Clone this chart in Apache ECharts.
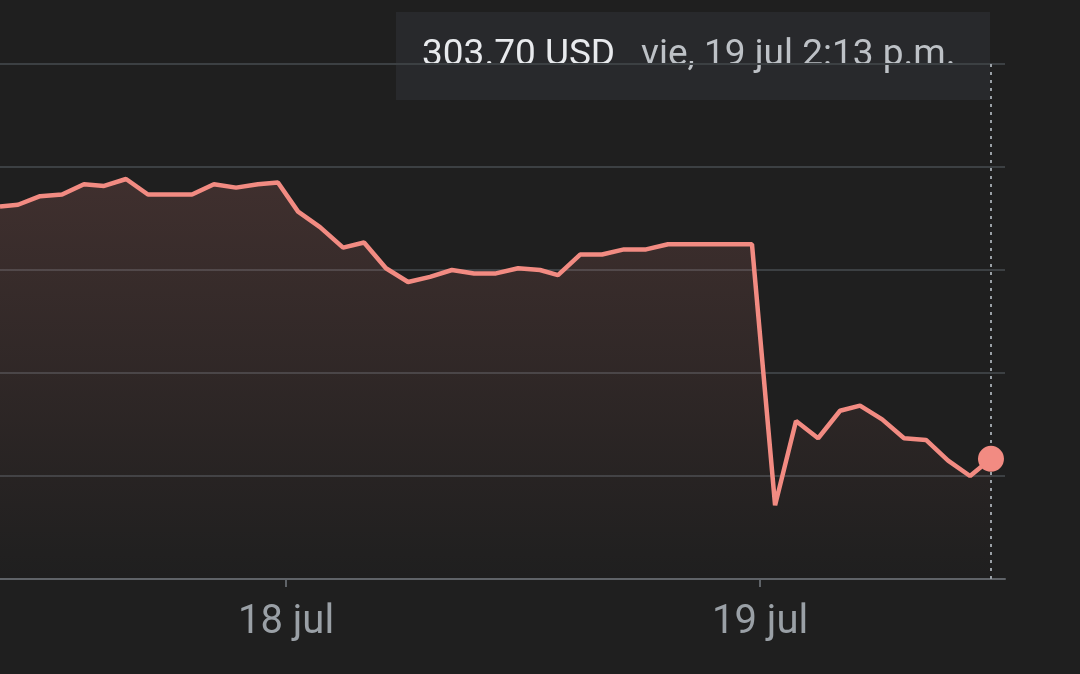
<!DOCTYPE html>
<html><head><meta charset="utf-8">
<script src="https://cdn.jsdelivr.net/npm/echarts@6/dist/echarts.min.js"></script>
<style>html,body{margin:0;background:#1f1f1f}#c{width:1080px;height:674px}</style>
</head><body><div id="c"></div>
<script>
const hours=[-14.48,-13.57,-12.45,-11.34,-10.23,-9.21,-8.10,-6.99,-5.87,-4.76,-3.65,-2.53,-1.42,-0.41,0.61,1.72,2.89,3.95,5.06,6.18,7.29,8.40,9.52,10.63,11.75,12.86,13.77,14.89,16.0,17.11,18.23,19.34,20.45,21.57,22.68,23.59,24.76,25.82,26.94,28.05,29.06,30.18,31.29,32.40,33.52,34.63,35.69];
const prices=[305.17,305.18,305.23,305.24,305.30,305.29,305.33,305.24,305.24,305.24,305.30,305.28,305.30,305.31,305.14,305.05,304.93,304.96,304.81,304.73,304.76,304.80,304.78,304.78,304.81,304.80,304.77,304.89,304.89,304.92,304.92,304.95,304.95,304.95,304.95,304.95,303.43,303.92,303.82,303.98,304.01,303.93,303.82,303.81,303.69,303.60,303.70];
const tickHours=[0,24];
const tickLabels=['18 jul','19 jul'];
const lastPrice='303.70 USD', lastTime='vie, 19 jul 2:13 p.m.';
const data=hours.map((h,i)=>[h,prices[i]]);
const last=data[data.length-1];
const chart=echarts.init(document.getElementById('c'));
chart.setOption({
  backgroundColor:'#1f1f1f',animation:false,
  grid:{left:0,right:75,top:64,bottom:95},
  xAxis:{type:'value',min:-14.48,max:36.4,
    axisLine:{show:true,lineStyle:{color:'#5f6368',width:2}},
    axisTick:{show:true,customValues:tickHours,length:8,lineStyle:{color:'#5f6368',width:2}},
    axisLabel:{customValues:tickHours,formatter:v=>tickLabels[tickHours.indexOf(v)],color:'#9aa0a6',fontSize:40,margin:24,fontFamily:'Roboto'},
    splitLine:{show:false}},
  yAxis:{type:'value',min:303,max:306,interval:0.6,axisLabel:{show:false},axisLine:{show:false},axisTick:{show:false},
    splitLine:{lineStyle:{color:'#3c4043',width:2}}},
  series:[{type:'line',data:data,symbol:'none',lineStyle:{color:'#f28b82',width:4.5},
    areaStyle:{color:new echarts.graphic.LinearGradient(0,0,0,1,[{offset:0,color:'rgba(242,139,130,0.22)'},{offset:1,color:'rgba(242,139,130,0)'}])},
    markLine:{symbol:'none',silent:true,label:{show:false},lineStyle:{color:'#9aa0a6',type:[3,5],width:2},
      data:[[{coord:[last[0],303]},{coord:[last[0],306]}]]}},
   {type:'scatter',data:[last],symbolSize:26,itemStyle:{color:'#f28b82',opacity:1},z:5}],
  graphic:[
    {type:'rect',shape:{x:396,y:12,width:594,height:88},style:{fill:'#28292c'}},
    {type:'text',x:422,y:56,style:{text:lastPrice,fill:'#e8eaed',fontSize:37,fontFamily:'Roboto',verticalAlign:'middle'}},
    {type:'text',x:641,y:56,style:{text:lastTime,fill:'#bdc1c6',fontSize:37,fontFamily:'Roboto',verticalAlign:'middle'}}
  ]
});
</script></body></html>
